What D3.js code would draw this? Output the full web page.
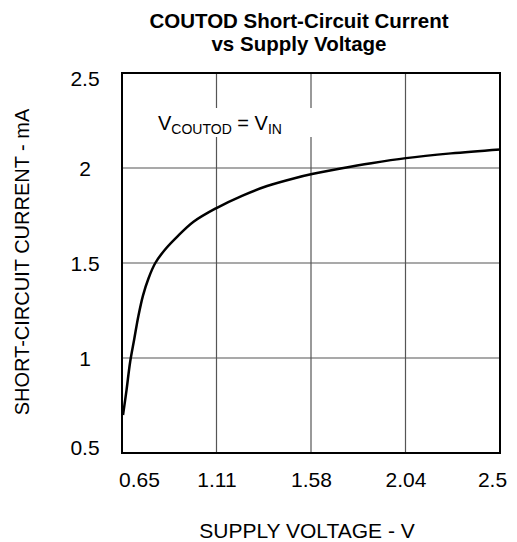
<!DOCTYPE html>
<html>
<head>
<meta charset="utf-8">
<script src="https://cdn.jsdelivr.net/npm/d3@7"></script>
<style>
  body { margin: 0; background: #fff; }
  svg { display: block; font-family: "Liberation Sans", Arial, Helvetica, sans-serif; }
</style>
</head>
<body>
<div id="chart"></div>
<script>
// data
const voltage = [0.655, 0.672, 0.69, 0.71, 0.73, 0.753, 0.78, 0.813, 0.86, 0.917, 1.0, 1.11, 1.24, 1.36, 1.49, 1.58, 1.72, 1.87, 2.04, 2.26, 2.5];
const current = [0.70, 0.83, 0.98, 1.10, 1.22, 1.33, 1.42, 1.50, 1.57, 1.635, 1.717, 1.788, 1.855, 1.905, 1.945, 1.968, 1.997, 2.025, 2.052, 2.077, 2.098];

const xTicks = [0.65, 1.1125, 1.575, 2.0375, 2.5];
const xTickLabels = ["0.65", "1.11", "1.58", "2.04", "2.5"];
const yTicks = [0.5, 1, 1.5, 2, 2.5];
const yTickLabels = ["0.5", "1", "1.5", "2", "2.5"];

const width = 517, height = 542;
const margin = { top: 73, right: 17, bottom: 89, left: 122 };
const innerW = width - margin.left - margin.right;
const innerH = height - margin.top - margin.bottom;

const svg = d3.select("#chart").append("svg")
  .attr("width", width)
  .attr("height", height);

const x = d3.scaleLinear().domain([0.65, 2.5]).range([margin.left, margin.left + innerW]);
const y = d3.scaleLinear().domain([0.5, 2.5]).range([margin.top + innerH, margin.top]);

// title
const title = svg.append("text")
  .attr("text-anchor", "middle")
  .style("font-weight", "bold")
  .style("font-size", "20.5px")
  .style("fill", "#000");
title.append("tspan").attr("x", 299).attr("y", 28).text("COUTOD Short-Circuit Current");
title.append("tspan").attr("x", 299).attr("y", 51).text("vs Supply Voltage");

// grid
svg.append("g")
  .selectAll("line")
  .data(xTicks.slice(1, -1))
  .enter().append("line")
  .attr("x1", d => x(d)).attr("x2", d => x(d))
  .attr("y1", y(0.5)).attr("y2", y(2.5))
  .attr("stroke", "#555").attr("stroke-width", 1.2);

svg.append("g")
  .selectAll("line")
  .data(yTicks.slice(1, -1))
  .enter().append("line")
  .attr("x1", x(0.65)).attr("x2", x(2.5))
  .attr("y1", d => y(d)).attr("y2", d => y(d))
  .attr("stroke", "#555").attr("stroke-width", 1.2);

// annotation box (white behind text, breaks the grid)
svg.append("rect")
  .attr("x", 148).attr("y", 108)
  .attr("width", 168).attr("height", 29)
  .attr("fill", "#fff");

const ann = svg.append("text")
  .attr("x", 158).attr("y", 130)
  .style("font-size", "20px")
  .style("fill", "#000");
ann.append("tspan").text("V");
ann.append("tspan").attr("dy", 4).style("font-size", "14px").text("COUTOD");
ann.append("tspan").attr("dy", -4).text(" = V");
ann.append("tspan").attr("dy", 4).style("font-size", "14px").text("IN");

// curve
const line = d3.line()
  .x((d, i) => x(voltage[i]))
  .y((d, i) => y(current[i]))
  .curve(d3.curveCatmullRom.alpha(0.5));

svg.append("path")
  .datum(current)
  .attr("d", line)
  .attr("fill", "none")
  .attr("stroke", "#000")
  .attr("stroke-width", 2.5);

// frame
svg.append("rect")
  .attr("x", x(0.65)).attr("y", y(2.5))
  .attr("width", x(2.5) - x(0.65)).attr("height", y(0.5) - y(2.5))
  .attr("fill", "none")
  .attr("stroke", "#000")
  .attr("stroke-width", 2);

// x axis labels
const xAxis = d3.axisBottom(x)
  .tickValues(xTicks)
  .tickFormat((d, i) => xTickLabels[i])
  .tickSize(0)
  .tickPadding(0);

const gx = svg.append("g")
  .attr("transform", `translate(0,${y(0.5)})`)
  .call(xAxis);
gx.select(".domain").remove();
gx.selectAll("text")
  .attr("y", 34)
  .attr("dy", 0)
  .attr("dx", (d, i) => i === 0 ? 17 : (i === xTicks.length - 1 ? -8 : 0))
  .style("font-size", "21px")
  .style("font-family", "inherit")
  .style("fill", "#000");

// y axis labels
const yAxis = d3.axisLeft(y)
  .tickValues(yTicks)
  .tickFormat((d, i) => yTickLabels[i])
  .tickSize(0)
  .tickPadding(0);

const gy = svg.append("g")
  .attr("transform", "translate(85,0)")
  .call(yAxis);
gy.select(".domain").remove();
gy.selectAll("text")
  .attr("x", 0)
  .attr("text-anchor", "middle")
  .attr("dy", (d, i) => i === 0 ? "0.05em" : (i === yTicks.length - 1 ? "0.6em" : "0.35em"))
  .style("font-size", "21px")
  .style("font-family", "inherit")
  .style("fill", "#000");

// axis titles
svg.append("text")
  .attr("x", 307).attr("y", 538)
  .attr("text-anchor", "middle")
  .style("font-size", "21px")
  .text("SUPPLY VOLTAGE - V");

svg.append("text")
  .attr("transform", "translate(29,262) rotate(-90)")
  .attr("text-anchor", "middle")
  .style("font-size", "20px")
  .text("SHORT-CIRCUIT CURRENT - mA");
</script>
</body>
</html>
